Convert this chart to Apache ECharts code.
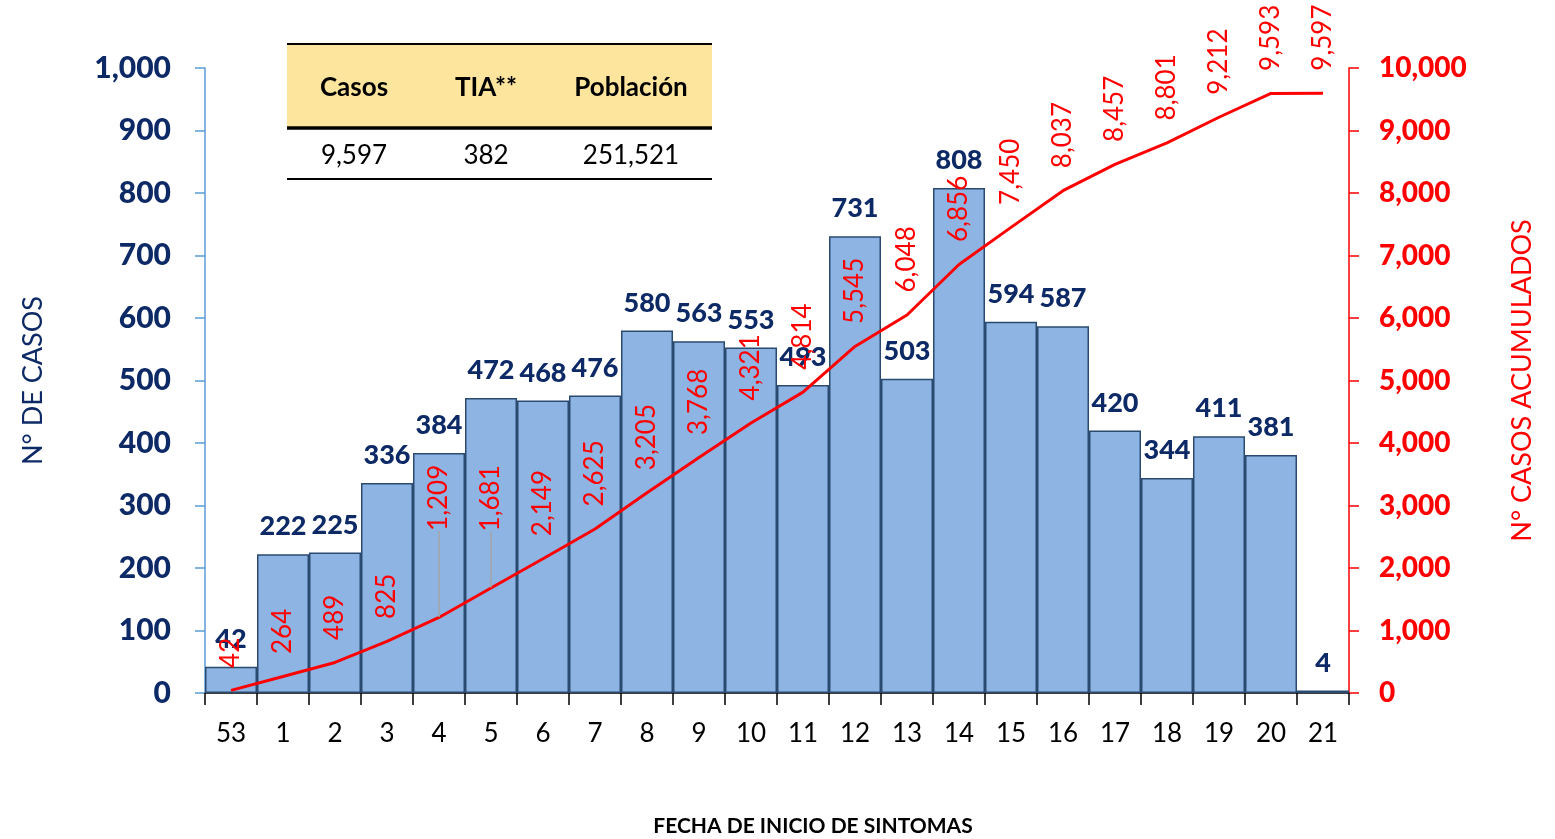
<!DOCTYPE html>
<html>
<head>
<meta charset="utf-8">
<script src="https://cdn.jsdelivr.net/npm/echarts@6/dist/echarts.min.js"></script>
<style>
html,body{margin:0;padding:0;background:#fff;}
#chart{width:1555px;height:839px;}
</style>
</head>
<body>
<div id="chart"></div>
<script>
const weeks = ['53','1','2','3','4','5','6','7','8','9','10','11','12','13','14','15','16','17','18','19','20','21'];
const cases = [42,222,225,336,384,472,468,476,580,563,553,493,731,503,808,594,587,420,344,411,381,4];
const cumulative = [42,264,489,825,1209,1681,2149,2625,3205,3768,4321,4814,5545,6048,6856,7450,8037,8457,8801,9212,9593,9597];
const leftTicks = [0,100,200,300,400,500,600,700,800,900,1000];
const rightTicks = [0,1000,2000,3000,4000,5000,6000,7000,8000,9000,10000];
const tableHeaders = ['Casos','TIA**','Población'];
const tableValues = ['9,597','382','251,521'];

const FONT = 'Lato, "Open Sans", sans-serif';
const NAVY = '#0D2A66';
const fmt = v => Number(v).toLocaleString('en-US');

const chart = echarts.init(document.getElementById('chart'));

const colX = [354, 486, 631];
const graphics = [
  {type:'rect', shape:{x:287,y:44,width:425,height:84}, style:{fill:'#FDE59D'}, z:10},
  {type:'line', shape:{x1:287,y1:44,x2:712,y2:44}, style:{stroke:'#000',lineWidth:2}, z:11},
  {type:'line', shape:{x1:287,y1:128,x2:712,y2:128}, style:{stroke:'#000',lineWidth:3.5}, z:11},
  {type:'line', shape:{x1:287,y1:179,x2:712,y2:179}, style:{stroke:'#000',lineWidth:2}, z:11}
];
tableHeaders.forEach((t,i)=>graphics.push({type:'text', x:colX[i], y:88, z:12,
  style:{text:t, font:'bold 26px '+FONT, fill:'#000', textAlign:'center', textVerticalAlign:'middle'}}));
tableValues.forEach((t,i)=>graphics.push({type:'text', x:colX[i], y:156, z:12,
  style:{text:t, font:'26px '+FONT, fill:'#000', textAlign:'center', textVerticalAlign:'middle'}}));
graphics.push({type:'text', x:813, y:826, z:12,
  style:{text:'FECHA DE INICIO DE SINTOMAS', font:'bold 21px '+FONT, fill:'#000', textAlign:'center', textVerticalAlign:'middle'}});

// a few cumulative labels are lifted off the line in the original, with a leader line
const liftedLabels = {4: 64, 5: 34};
const lineData = cumulative.map((v, i) => liftedLabels[i] !== undefined
  ? {value: v, labelLine: {show: true, lineStyle: {color: '#A6A6A6', width: 1.5}}}
  : v);

const option = {
  animation:false,
  backgroundColor:'#fff',
  grid:{left:205, right:206, top:68, bottom:146},
  graphic: graphics,
  xAxis:{
    type:'category', data:weeks,
    axisLine:{lineStyle:{color:'#000', width:1.5}},
    axisTick:{show:true, length:12, lineStyle:{color:'#000', width:1.5}},
    axisLabel:{color:'#000', fontSize:26, fontFamily:FONT, margin:28}
  },
  yAxis:[
    {
      type:'value', min:0, max:1000, interval:100, position:'left',
      name:'N° DE CASOS', nameLocation:'middle', nameGap:158, nameRotate:90,
      nameTextStyle:{color:NAVY, fontSize:27, fontFamily:FONT},
      axisLine:{show:true, lineStyle:{color:'#5B9BD5', width:1.5}},
      axisTick:{show:true, length:10, lineStyle:{color:'#5B9BD5', width:1.5}},
      splitLine:{show:false},
      axisLabel:{color:NAVY, fontSize:30, fontWeight:900, fontFamily:FONT, margin:34, formatter:fmt}
    },
    {
      type:'value', min:0, max:10000, interval:1000, position:'right',
      name:'N° CASOS ACUMULADOS', nameLocation:'middle', nameGap:160, nameRotate:90,
      nameTextStyle:{color:'#FF0000', fontSize:27, fontFamily:FONT},
      axisLine:{show:true, lineStyle:{color:'#FF0000', width:1.5}},
      axisTick:{show:true, length:10, lineStyle:{color:'#FF0000', width:1.5}},
      splitLine:{show:false},
      axisLabel:{color:'#FF0000', fontSize:28, fontWeight:900, fontFamily:FONT, margin:30, formatter:fmt}
    }
  ],
  series:[
    {
      type:'bar', data:cases, yAxisIndex:0, barCategoryGap:'0%',
      itemStyle:{color:'#8DB4E2', borderColor:'#2B4A6F', borderWidth:1.5},
      label:{show:true, position:'top', distance:14, color:NAVY, fontSize:27, fontWeight:900, fontFamily:FONT},
      z:2
    },
    {
      type:'line', data:lineData, yAxisIndex:1, symbol:'circle', symbolSize:1, showSymbol:true,
      itemStyle:{color:'rgba(255,0,0,0)'},
      lineStyle:{color:'#FF0000', width:3},
      label:{show:true, position:'top', rotate:90, align:'left', verticalAlign:'middle', distance:22,
        color:'#FF0000', fontSize:26, fontFamily:FONT, formatter:p=>fmt(p.value)},
      labelLine:{show:false},
      labelLayout:function(p){
        if (liftedLabels[p.dataIndex] !== undefined) return {dx: liftedLabels[p.dataIndex], hideOverlap:false};
        return {hideOverlap:false};
      },
      z:3
    }
  ]
};
chart.setOption(option);
</script>
</body>
</html>
